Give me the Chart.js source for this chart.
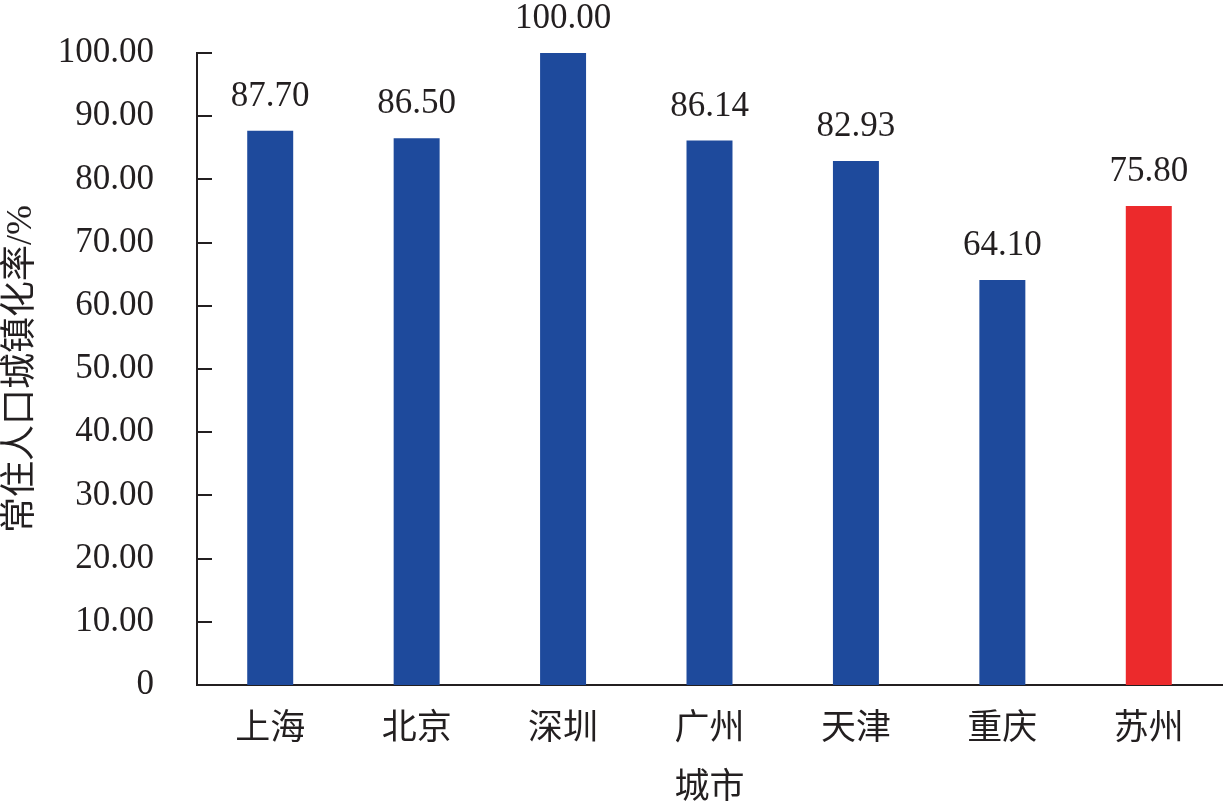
<!DOCTYPE html>
<html>
<head>
<meta charset="utf-8">
<script src="https://cdn.jsdelivr.net/npm/chart.js@4"></script>
<style>
  html, body { margin: 0; padding: 0; background: #fff; }
  #wrap { width: 1232px; height: 808px; }
</style>
</head>
<body>
<div id="wrap"><canvas id="chart" width="1232" height="808"></canvas></div>
<script>
// 数据
const cities = ["上海", "北京", "深圳", "广州", "天津", "重庆", "苏州"];
const rates = [87.70, 86.50, 100.00, 86.14, 82.93, 64.10, 75.80];
const yTicks = [0, 10, 20, 30, 40, 50, 60, 70, 80, 90, 100];

const BLUE = "#1e4a9c";
const RED = "#ec2a2c";
const INK = "#231f20";
const FONT = '"Liberation Serif", "Noto Sans CJK SC", serif';

const barColors = cities.map((c) => (c === "苏州" ? RED : BLUE));

// 柱顶数值
const valueLabels = {
  id: "valueLabels",
  afterDatasetsDraw(chart) {
    const ctx = chart.ctx;
    const meta = chart.getDatasetMeta(0);
    ctx.save();
    ctx.font = "35px " + FONT;
    ctx.fillStyle = INK;
    ctx.textAlign = "center";
    ctx.textBaseline = "alphabetic";
    meta.data.forEach((bar, i) => {
      ctx.fillText(rates[i].toFixed(2), bar.x, bar.y - 25);
    });
    ctx.restore();
  },
};

// y轴刻度线朝内
const innerTicks = {
  id: "innerTicks",
  afterDraw(chart) {
    const ctx = chart.ctx;
    const y = chart.scales.y;
    const left = chart.chartArea.left;
    ctx.save();
    ctx.strokeStyle = INK;
    ctx.lineWidth = 2;
    y.ticks.forEach((t) => {
      const py = Math.round(y.getPixelForValue(t.value));
      ctx.beginPath();
      ctx.moveTo(left, py);
      ctx.lineTo(left + 15, py);
      ctx.stroke();
    });
    ctx.restore();
  },
};

new Chart(document.getElementById("chart"), {
  type: "bar",
  data: {
    labels: cities,
    datasets: [
      {
        data: rates,
        backgroundColor: barColors,
        barPercentage: 0.314,
        categoryPercentage: 1,
      },
    ],
  },
  options: {
    responsive: false,
    animation: false,
    devicePixelRatio: 1,
    layout: { padding: { top: 53, right: 10, left: 0, bottom: 0 } },
    plugins: {
      legend: { display: false },
      tooltip: { enabled: false },
    },
    scales: {
      x: {
        grid: { display: false, drawTicks: false },
        border: { display: true, color: INK, width: 2 },
        ticks: {
          color: INK,
          font: { family: FONT, size: 35, lineHeight: 1.2 },
          padding: 24,
          maxRotation: 0,
        },
        title: {
          display: true,
          text: "城市",
          color: INK,
          font: { family: FONT, size: 35, lineHeight: "38px" },
          padding: 0,
        },
        afterFit(scale) {
          scale.height = 123;
        },
      },
      y: {
        min: 0,
        max: 100,
        afterBuildTicks(scale) {
          scale.ticks = yTicks.map((v) => ({ value: v }));
        },
        grid: { display: false, drawTicks: false },
        border: { display: true, color: INK, width: 2 },
        ticks: {
          color: INK,
          font: { family: FONT, size: 35 },
          padding: 43,
          callback: (v) => (v === 0 ? "0" : Number(v).toFixed(2)),
        },
        title: {
          display: true,
          text: "常住人口城镇化率/%",
          color: INK,
          font: { family: FONT, size: 36, lineHeight: "44px" },
          padding: 0,
        },
        afterFit(scale) {
          scale.width = 197;
          scale.paddingTop = 0;
          scale.paddingBottom = 0;
        },
      },
    },
  },
  plugins: [valueLabels, innerTicks],
});
</script>
</body>
</html>
